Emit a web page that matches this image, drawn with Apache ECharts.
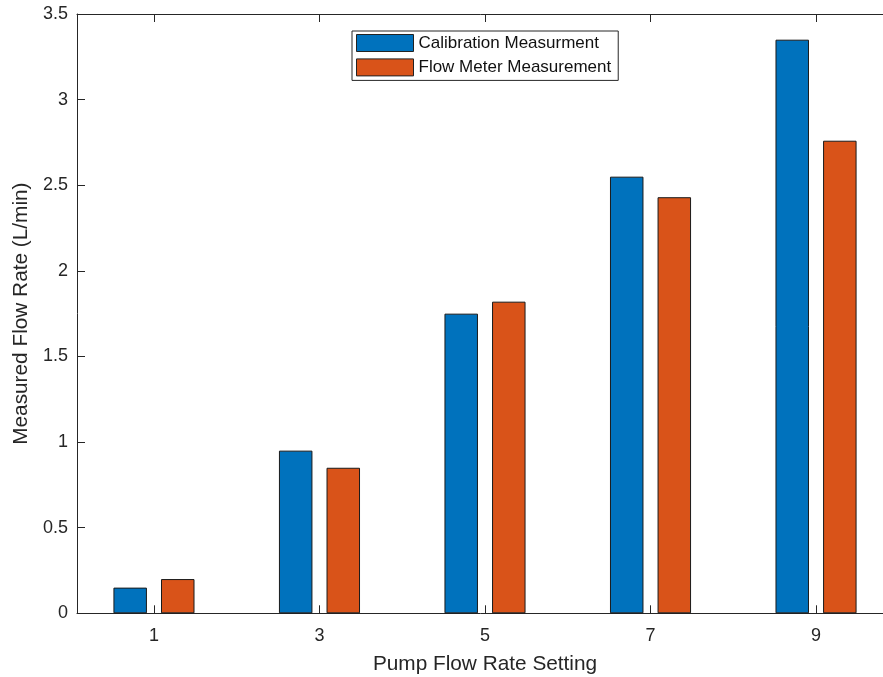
<!DOCTYPE html>
<html>
<head>
<meta charset="utf-8">
<script src="https://cdn.jsdelivr.net/npm/echarts@6/dist/echarts.min.js"></script>
<style>
html,body{margin:0;padding:0;background:#fff;}
#c{width:883px;height:677px;}
</style>
</head>
<body>
<div id="c"></div>
<script>
const pumpSettings = [1, 3, 5, 7, 9];
const calibration = [0.15, 0.95, 1.75, 2.55, 3.35];
const flowMeter = [0.20, 0.85, 1.82, 2.43, 2.76];
const seriesNames = ['Calibration Measurment', 'Flow Meter Measurement'];

const FONT = '"Liberation Sans", Arial, Helvetica, sans-serif';
const AX = '#262626';

const chart = echarts.init(document.getElementById('c'), null, {renderer: 'canvas'});

const xBase = {
  type: 'value',
  min: 0.07,
  max: 9.93,
  axisLine: {show: true, lineStyle: {color: AX, width: 1}},
  axisTick: {show: true, inside: true, length: 8, customValues: pumpSettings, lineStyle: {color: AX}},
  splitLine: {show: false}
};

chart.setOption({
  backgroundColor: '#ffffff',
  animation: false,
  grid: {left: 77, top: 14, width: 816, height: 599.3, outerBoundsMode: 'none', containLabel: false},
  legend: {
    orient: 'vertical',
    left: 352,
    top: 31,
    padding: [3, 7, 4, 4],
    itemWidth: 57,
    itemHeight: 17,
    itemGap: 6.4,
    borderColor: AX,
    borderWidth: 1,
    backgroundColor: '#fff',
    textStyle: {fontFamily: FONT, fontSize: 17, color: '#111'},
    itemStyle: {borderColor: '#222', borderWidth: 1},
    data: seriesNames.map(n => ({name: n, icon: 'rect'}))
  },
  xAxis: [
    Object.assign({}, xBase, {
      position: 'bottom',
      name: 'Pump Flow Rate Setting',
      nameLocation: 'middle',
      nameGap: 40,
      nameTextStyle: {fontFamily: FONT, fontSize: 20.8, color: AX},
      axisLabel: {show: true, customValues: pumpSettings, margin: 14, fontFamily: FONT, fontSize: 18, color: AX}
    }),
    Object.assign({}, xBase, {
      position: 'top',
      axisLabel: {show: false}
    })
  ],
  yAxis: {
    type: 'value',
    min: 0,
    max: 3.5,
    interval: 0.5,
    name: 'Measured Flow Rate (L/min)',
    nameLocation: 'middle',
    nameRotate: 90,
    nameGap: 41,
    nameTextStyle: {fontFamily: FONT, fontSize: 20.8, color: AX},
    axisLine: {show: true, lineStyle: {color: AX, width: 1}},
    axisTick: {show: true, inside: true, length: 8, lineStyle: {color: AX}},
    axisLabel: {margin: 9, fontFamily: FONT, fontSize: 18, color: AX},
    splitLine: {show: false}
  },
  series: [
    {
      name: seriesNames[0],
      type: 'bar',
      xAxisIndex: 0,
      barWidth: 33.5,
      barGap: '42%',
      itemStyle: {color: '#0072BD', borderColor: '#1a1a1a', borderWidth: 1},
      data: pumpSettings.map((x, i) => [x, calibration[i]])
    },
    {
      name: seriesNames[1],
      type: 'bar',
      xAxisIndex: 0,
      barWidth: 33.5,
      barGap: '42%',
      itemStyle: {color: '#D95319', borderColor: '#1a1a1a', borderWidth: 1},
      data: pumpSettings.map((x, i) => [x, flowMeter[i]])
    }
  ]
});
</script>
</body>
</html>
